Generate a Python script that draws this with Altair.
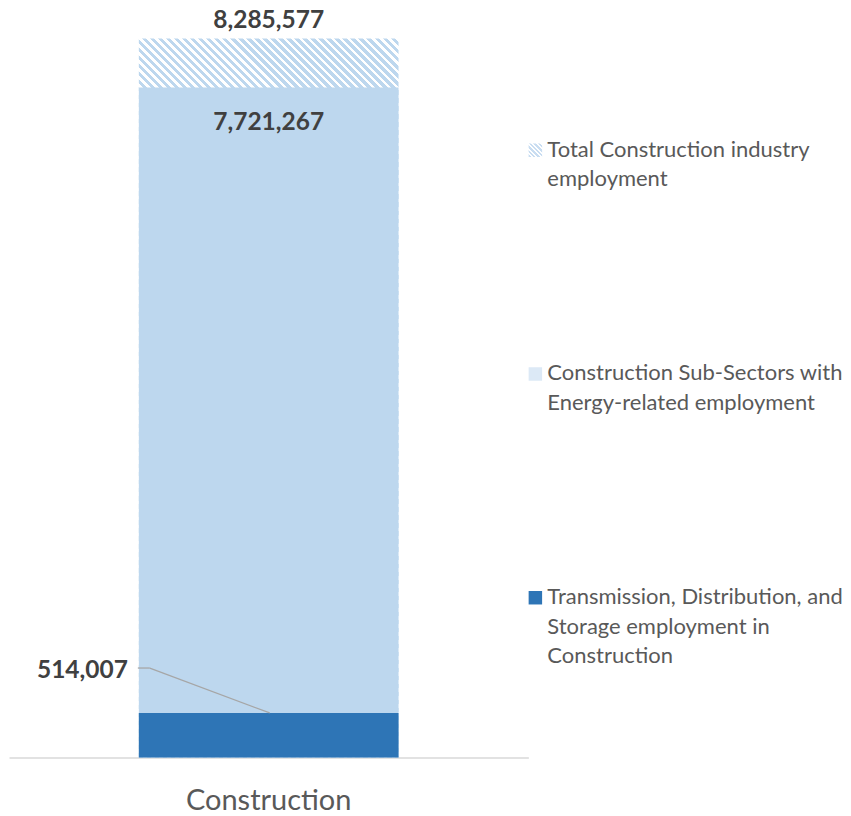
import altair as alt
import pandas as pd

# ---- data ----
category = ["Construction"]
series = [
    "Total Construction industry employment",
    "Construction Sub-Sectors with Energy-related employment",
    "Transmission, Distribution, and Storage employment in Construction",
]
values = [8285577, 7721267, 514007]
legend_labels = [
    "Total Construction industry\nemployment",
    "Construction Sub-Sectors with\nEnergy-related employment",
    "Transmission, Distribution, and\nStorage employment in\nConstruction",
]

df = pd.DataFrame({
    "category": category * len(series),
    "series": series,
    "value": values,
    "label": legend_labels,
})

# ---- layout / style ----
W, H = 520, 750
YMAX = 8630810
FONT = "Lato"
LIGHT = "#BDD7EE"
DARK = "#2E75B6"


def stripes(w, h, period, c1, c2, frac):
    """Diagonal '\\' stripes via a linear gradient (SVG objectBoundingBox)."""
    lam = (w + h) / (w * w + h * h)
    n = max(1, round((w + h) / period))
    stops = []
    for k in range(n):
        a = k / n
        b = (k + frac) / n
        c = (k + 1) / n
        stops += [
            alt.GradientStop(offset=a, color=c1),
            alt.GradientStop(offset=b, color=c1),
            alt.GradientStop(offset=b, color=c2),
            alt.GradientStop(offset=c, color=c2),
        ]
    return alt.LinearGradient(gradient="linear", stops=stops,
                              x1=0, y1=1, x2=lam * w, y2=1 - lam * h)


bar_w = W * 0.5
bar_h = values[0] / YMAX * H
hatch_bar = stripes(bar_w, bar_h, 8, LIGHT, "#FFFFFF", 0.55)
sym_size = 182
sym_side = sym_size ** 0.5
hatch_sym = stripes(sym_side, sym_side, 4.5, "#C9DDF1", "#FFFFFF", 0.55)

x_enc = alt.X(
    "category:N",
    scale=alt.Scale(paddingInner=0.5, paddingOuter=0.25),
    axis=alt.Axis(title=None, labelAngle=0, labelFont=FONT, labelFontSize=29,
                  labelColor="#595959", labelPadding=29, ticks=False,
                  domainColor="#D9D9D9", domainWidth=1.5),
)
y_enc = alt.Y("value:Q", scale=alt.Scale(domain=[0, YMAX], nice=False, zero=True), axis=None)

base = alt.Chart(df).encode(x=x_enc, y=y_enc)
f_total = alt.datum.series == series[0]
f_sub = alt.datum.series == series[1]
f_tds = alt.datum.series == series[2]

total_bar = base.transform_filter(f_total).mark_bar(fill=hatch_bar, strokeWidth=0)
sub_bar = base.transform_filter(f_sub).mark_bar(fill=LIGHT, strokeWidth=0)
tds_bar = base.transform_filter(f_tds).mark_bar(fill=DARK, strokeWidth=0)

lab_style = dict(font=FONT, fontWeight="bold", fontSize=24.5, color="#404040", baseline="middle")
txt = alt.Text("value:Q", format=",")
total_lab = base.transform_filter(f_total).mark_text(dy=-17, **lab_style).encode(text=txt)
sub_lab = base.transform_filter(f_sub).mark_text(dy=36, **lab_style).encode(text=txt)
tds_lab = base.transform_filter(f_tds).mark_text(dy=-42, align="right", **lab_style).encode(
    x=alt.value(119), text=txt)

lead1 = alt.Chart(df).transform_filter(f_tds).mark_rule(
    color="#A6A6A6", strokeWidth=1.3, yOffset=-45).encode(
    x=alt.value(129), x2=alt.value(141), y=y_enc)
lead2 = alt.Chart(df).transform_filter(f_tds).mark_rule(
    color="#A6A6A6", strokeWidth=1.3, yOffset=-45, y2Offset=0).encode(
    x=alt.value(141), x2=alt.value(261), y=y_enc, y2=alt.Y2("value"))

left = alt.layer(total_bar, sub_bar, tds_bar, lead1, lead2,
                 total_lab, sub_lab, tds_lab).properties(width=W, height=H)

# ---- legend ----
leg_y = alt.Y("series:N",
              scale=alt.Scale(type="point", domain=series, padding=0.674, align=0.47),
              axis=None)
leg = alt.Chart(df).encode(y=leg_y)
sym_total = leg.transform_filter(f_total).mark_square(size=sym_size, fill=hatch_sym, opacity=1, strokeWidth=0).encode(x=alt.value(5))
sym_sub = leg.transform_filter(f_sub).mark_square(size=sym_size, fill="#DCE9F6", opacity=1, strokeWidth=0).encode(x=alt.value(5))
sym_tds = leg.transform_filter(f_tds).mark_square(size=sym_size, fill=DARK, opacity=1, strokeWidth=0).encode(x=alt.value(5))
leg_text = leg.mark_text(align="left", baseline="top", dy=-10.5, lineBreak="\n", lineHeight=29.5,
                         font=FONT, fontSize=22, color="#595959").encode(
    x=alt.value(17), text="label:N")
right = alt.layer(sym_total, sym_sub, sym_tds, leg_text).properties(width=300, height=H)

chart = alt.hconcat(left, right, spacing=0).properties(
    padding={"left": 1, "top": 0, "right": 0, "bottom": 0}
).configure_view(stroke=None)

chart.save("out.html", embed_options={"renderer": "svg", "actions": False})
